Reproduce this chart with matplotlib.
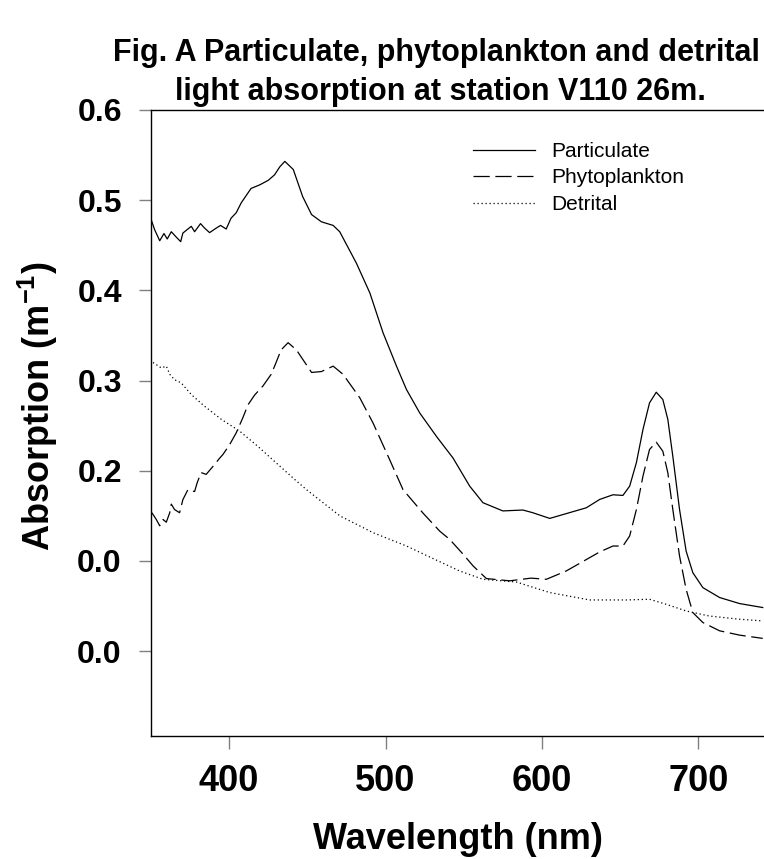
"""
Particulate, phytoplankton and detrital absorption spectra, station V110 26m.
"""
import matplotlib
matplotlib.use("Agg")
import matplotlib.pyplot as plt

plt.rcParams["mathtext.fontset"] = "custom"
plt.rcParams["mathtext.rm"] = "Liberation Sans:bold"
plt.rcParams["mathtext.bf"] = "Liberation Sans:bold"

# ── Data ────────────────────────────────────────────────────────────────────
part_wl = [350.2, 352.4, 355.6, 358.3, 360.4, 363, 366.2, 369, 370.4, 373.6,
           375.8, 377.9, 381.7, 384.3, 387.5, 391.7, 394.5, 398.1, 401.2,
           404.5, 407.7, 414, 419.6, 425, 429, 432.4, 435.6, 441, 447, 452.7,
           459, 466.5, 470.7, 481.4, 490, 498.4, 507, 513.4, 521.9, 532.6,
           543.2, 553.8, 562.3, 575, 587.8, 594, 605, 617.7, 628.4, 636.9,
           645.4, 651.8, 656.1, 660.4, 664.6, 668.8, 673.1, 677.3, 680.5,
           683.7, 688, 692.2, 696.5, 702.9, 713.6, 726.4, 741.2]
part_abs = [0.478, 0.467, 0.455, 0.463, 0.457, 0.465, 0.459, 0.454, 0.4635,
            0.468, 0.471, 0.465, 0.474, 0.469, 0.464, 0.469, 0.472, 0.468,
            0.480, 0.486, 0.497, 0.513, 0.517, 0.522, 0.528, 0.537, 0.543,
            0.534, 0.504, 0.484, 0.476, 0.472, 0.465, 0.430, 0.397, 0.353,
            0.316, 0.290, 0.264, 0.238, 0.214, 0.183, 0.1646, 0.1555, 0.1565,
            0.1536, 0.1472, 0.1536, 0.159, 0.1682, 0.1734, 0.1727, 0.183,
            0.209, 0.2457, 0.2753, 0.2871, 0.279, 0.257, 0.216, 0.157, 0.111,
            0.087, 0.0705, 0.0595, 0.0528, 0.0484]

phyto_wl = [350.6, 353.4, 355.6, 357.7, 359.8, 362, 363, 365.1, 368.3, 370.4,
            373.6, 377.9, 379.6, 382.1, 385.3, 390.7, 393.9, 396, 400.3, 404.5,
            408.8, 412, 416.3, 421.6, 426.9, 430, 433.2, 437.7, 443, 452.7,
            459, 466.5, 472.8, 483.5, 492, 502.7, 511.2, 524, 534.7, 541,
            549.6, 556, 564.5, 579.4, 593, 602.8, 615.5, 630.5, 636.9, 645.4,
            651.8, 656.1, 660.4, 664.6, 668.8, 673.1, 677.3, 680.5, 683.7, 688,
            692.2, 696.5, 702.9, 713.6, 726.4, 741.2]
phyto_abs = [0.1535, 0.146, 0.139, 0.146, 0.143, 0.1535, 0.163, 0.157,
             0.1535, 0.168, 0.179, 0.177, 0.187, 0.198, 0.196, 0.207, 0.214,
             0.218, 0.229, 0.242, 0.259, 0.273, 0.284, 0.294, 0.307, 0.320,
             0.334, 0.342, 0.334, 0.309, 0.310, 0.316, 0.307, 0.281, 0.253,
             0.212, 0.179, 0.153, 0.133, 0.124, 0.1075, 0.0945, 0.0805, 0.078,
             0.081, 0.0797, 0.0889, 0.1037, 0.110, 0.1166, 0.1166, 0.1277,
             0.157, 0.194, 0.2236, 0.2317, 0.2217, 0.1978, 0.157, 0.1055,
             0.0686, 0.0428, 0.0318, 0.0226, 0.0178, 0.0142]

det_wl = [351.3, 356.6, 359.8, 362, 365, 369.3, 375.8, 384.3, 395, 406.7,
          418.4, 431.2, 442.8, 449.5, 470.8, 492, 513.4, 530, 547.4, 562.3,
          583.6, 605, 630.5, 654, 668.8, 679.5, 692.2, 707, 726.4, 741.2]
det_abs = [0.320, 0.314, 0.316, 0.307, 0.301, 0.2975, 0.2845, 0.2715, 0.257,
           0.244, 0.227, 0.207, 0.189, 0.179, 0.150, 0.1314, 0.1166, 0.103,
           0.0889, 0.0797, 0.0767, 0.065, 0.0568, 0.0568, 0.0576, 0.052,
           0.0446, 0.039, 0.0354, 0.0336]

ytick_vals = [-0.0, 0.1, 0.2, 0.3, 0.4, 0.5, 0.6]
ytick_labels = ["0.0", "0.0", "0.2", "0.3", "0.4", "0.5", "0.6"]
xtick_vals = [400, 500, 600, 700]

NARROW = ["Liberation Sans Narrow", "Liberation Sans", "DejaVu Sans"]
WIDE = ["Liberation Sans", "DejaVu Sans"]

# ── Figure ──────────────────────────────────────────────────────────────────
fig = plt.figure(figsize=(7.64, 8.59), dpi=100)
ax = fig.add_axes([0.1976, 0.1432, 0.8024, 0.7288])

ax.plot(part_wl, part_abs, color="black", lw=0.9, label="Particulate")
ax.plot(phyto_wl, phyto_abs, color="black", lw=0.9, dashes=(13, 4.5),
        label="Phytoplankton")
ax.plot(det_wl, det_abs, color="black", lw=0.9, dashes=(1, 2.2),
        label="Detrital")

ax.set_xlim(350, 742)
ax.set_ylim(-0.094, 0.6)
ax.spines["right"].set_visible(False)
for s in ["left", "bottom", "top"]:
    ax.spines[s].set_linewidth(1.0)

ax.set_yticks(ytick_vals)
ax.set_yticklabels(ytick_labels, fontfamily=WIDE, fontweight="bold",
                   fontsize=23)
ax.set_xticks(xtick_vals)
ax.set_xticklabels([str(v) for v in xtick_vals], fontfamily=NARROW,
                   fontweight="bold", fontsize=26)
ax.tick_params(axis="y", length=9, width=1.0, color="#808080", pad=12)
ax.tick_params(axis="x", length=9, width=1.0, color="#808080", pad=11)

ax.set_xlabel("Wavelength (nm)", fontfamily=NARROW, fontweight="bold",
              fontsize=26, labelpad=17)
ax.set_ylabel("Absorption (m$^{\\mathbf{-1}}$)", fontfamily=NARROW,
              fontweight="bold", fontsize=26)
ax.yaxis.set_label_coords(-0.148, 0.526)

leg = ax.legend(loc="upper left", bbox_to_anchor=(0.494, 0.979),
                frameon=False, handlelength=3.0, handletextpad=0.8,
                labelspacing=0.36, prop={"family": WIDE, "size": 15})

fig.text(0.995, 0.938, "Fig. A Particulate, phytoplankton and detrital",
         ha="right", va="center", fontfamily=NARROW, fontweight="bold",
         fontsize=22)
fig.text(0.577, 0.893, "light absorption at station V110 26m.",
         ha="center", va="center", fontfamily=NARROW, fontweight="bold",
         fontsize=22)

plt.savefig("out.png", dpi=100)
plt.close()
